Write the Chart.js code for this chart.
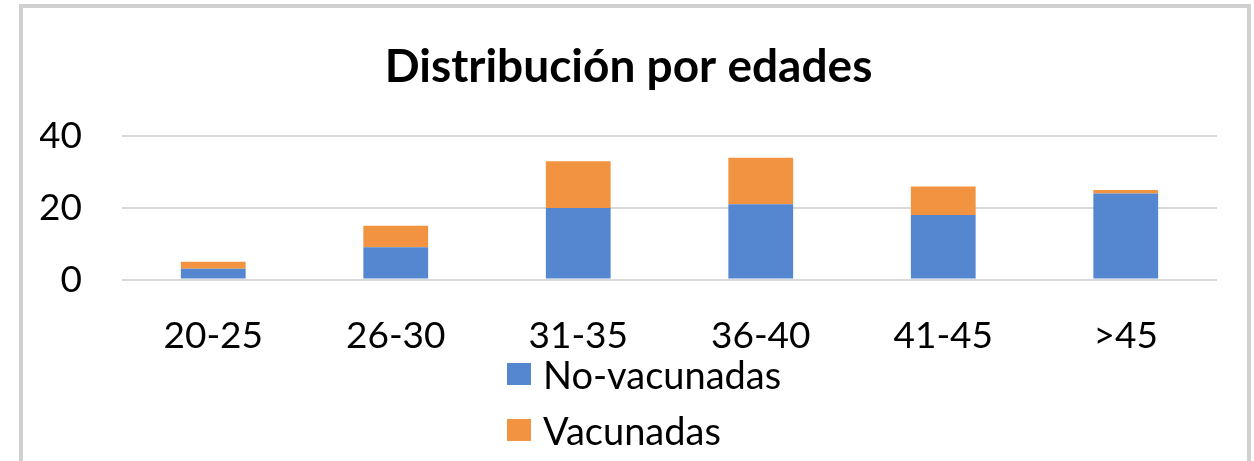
<!DOCTYPE html>
<html>
<head>
<meta charset="utf-8">
<script src="https://cdn.jsdelivr.net/npm/chart.js@4"></script>
<style>
  body { margin: 0; background: #fff; width: 1254px; height: 461px; overflow: hidden; position: relative; font-family: Lato, "Open Sans", sans-serif; }
  #frame { position: absolute; left: 19px; top: 4px; width: 1224px; height: 520px; border: 4px solid #d0d0d0; }
  #ages_chart { position: absolute; left: 0; top: 0; }
  #legend { position: absolute; left: 507px; top: 346px; }
  .item { height: 56px; display: flex; align-items: center; font-size: 38px; color: #000; }
  .swatch { width: 24px; height: 22px; margin-right: 12px; }
</style>
</head>
<body>
<div id="frame"></div>
<canvas id="ages_chart" width="1254" height="461"></canvas>
<div id="legend"></div>

<script>
/*datos*/
const ageGroups = ['20-25', '26-30', '31-35', '36-40', '41-45', '>45'];
const noVacunadas = [3, 9, 20, 21, 18, 24];
const vacunadas = [2, 6, 13, 13, 8, 1];
const yMax = 40;
const yStep = 20;

const seriesNames = ['No-vacunadas', 'Vacunadas'];
const seriesColors = ['#5587d0', '#f29341'];

const ctx = document.getElementById('ages_chart').getContext('2d');

new Chart(ctx, {
    type: 'bar',
    data: {
        labels: ageGroups,
        datasets: [{
            label: seriesNames[0],
            data: noVacunadas,
            backgroundColor: seriesColors[0],
            categoryPercentage: 1,
            barPercentage: 0.355
        }, {
            label: seriesNames[1],
            data: vacunadas,
            backgroundColor: seriesColors[1],
            categoryPercentage: 1,
            barPercentage: 0.355
        }]
    },
    options: {
        responsive: false,
        animation: false,
        devicePixelRatio: 1,
        layout: {
            padding: { top: 40, left: 40, right: 37, bottom: 77 }
        },
        plugins: {
            legend: { display: false },
            tooltip: { enabled: false },
            title: {
                display: true,
                text: 'Distribución por edades',
                color: '#000',
                font: { family: 'Lato', size: 46, weight: 'bold' },
                padding: { top: 0, bottom: 41 }
            }
        },
        scales: {
            x: {
                stacked: true,
                grid: { display: false },
                border: { display: false },
                ticks: {
                    color: '#000',
                    padding: 26,
                    font: { family: 'Lato', size: 37 }
                }
            },
            y: {
                stacked: true,
                min: 0,
                max: yMax,
                border: { display: false },
                grid: { color: '#d9d9d9', lineWidth: 2, drawTicks: false },
                ticks: {
                    stepSize: yStep,
                    color: '#000',
                    padding: 40,
                    font: { family: 'Lato', size: 37 }
                },
                afterFit: function (scale) {
                    scale.width = 82;
                }
            }
        }
    }
});

/*leyenda*/
const legend = document.getElementById('legend');
seriesNames.forEach(function (name, i) {
    const row = document.createElement('div');
    row.className = 'item';
    const box = document.createElement('span');
    box.className = 'swatch';
    box.style.background = seriesColors[i];
    row.appendChild(box);
    row.appendChild(document.createTextNode(name));
    legend.appendChild(row);
});
</script>
</body>
</html>
